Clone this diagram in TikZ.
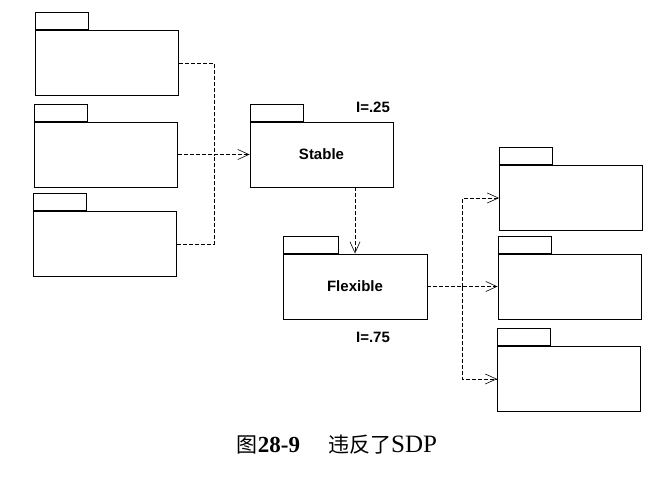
\documentclass[tikz,border=0pt]{standalone}
\usepackage{fontspec}
\setmainfont{Liberation Serif}
\newfontfamily\lsans{Liberation Sans}
\newfontfamily\cjk{Noto Sans CJK SC}
\usetikzlibrary{arrows.meta,positioning}

\tikzset{
  pkg/.style={draw, line width=0.9pt, minimum width=143pt, minimum height=65pt,
              inner sep=0pt, font=\lsans\bfseries\fontsize{15}{17}\selectfont},
  pkgtab/.style={draw, line width=0.9pt, minimum width=53pt, minimum height=17pt,
                 inner sep=0pt, anchor=south west},
  dep/.style={dash pattern=on 4pt off 2pt, line width=0.8pt},
  metric/.style={font=\lsans\bfseries\fontsize{15}{17}\selectfont},
  >={Straight Barb[length=11pt,width=10pt,line width=0.6pt]}
}

\begin{document}
\begin{tikzpicture}[x=1pt, y=-1pt]

\useasboundingbox (0,0) rectangle (671,484);

%% left packages, depend on Stable
\foreach \name/\cx/\cy in {lpa/107/63, lpb/106/154.5, lpc/105/244}{
  \node[pkg] (\name) at (\cx,\cy) {};
  \node[pkgtab] (\name tab) at (\name.north west) {};
}

%% Stable
\node[pkg] (stable) at (321.5,154.5) {Stable};
\node[pkgtab] (stabletab) at (stable.north west) {};
\node[metric] (istable) at (373,107) {I=.25};

%% Flexible
\node[pkg, minimum width=144pt] (flexible) at (355,286.5) {Flexible};
\node[pkgtab, minimum width=55pt] (flexibletab) at (flexible.north west) {};
\node[metric] (iflexible) at (373,337) {I=.75};

%% right packages, Flexible depends on them
\foreach \name/\cx/\cy in {rpa/571/198, rpb/569.5/286.5, rpc/569/379}{
  \node[pkg] (\name) at (\cx,\cy) {};
  \node[pkgtab] (\name tab) at (\name.north west) {};
}

%% dependencies
\coordinate (jleft) at (214,154.5);
\coordinate (jright) at (462,286.5);
\draw[dep] (lpa.east) -| (jleft);
\draw[dep] (lpc.east) -| (jleft);
\draw[dep, ->] (lpb.east) -- (stable.west);
\draw[dep, ->] (stable.south -| flexible.north) -- (flexible.north);
\draw[dep, ->] (flexible.east) -- (rpb.west);
\draw[dep, ->] (jright) |- (rpa.west);
\draw[dep, ->] (jright) |- (rpc.west);

%% caption
\node[font=\fontsize{21}{25}\selectfont] (caption) at (337,445)
  {{\cjk 图}{\fontsize{23}{25}\selectfont\textbf{28-9}}\hspace{28pt}{\cjk 违反了}{\fontsize{25}{27}\selectfont SDP}};

\end{tikzpicture}
\end{document}
